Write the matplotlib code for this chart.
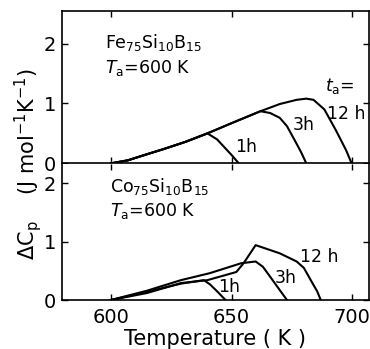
import matplotlib
matplotlib.use('Agg')
import matplotlib.pyplot as plt

plt.rcParams['font.family'] = ['DejaVu Sans']
plt.rcParams['mathtext.default'] = 'regular'

# Fe75Si10B15: common rising part, then the three annealing branches
fe_rise_T = [600, 607, 614, 622, 631, 640]
fe_rise_C = [0, 0.05, 0.14, 0.24, 0.36, 0.5]
fe_1h_T = [644, 647, 650, 653]
fe_1h_C = [0.4, 0.27, 0.14, 0]
fe_3h_T = [650, 662, 666, 670, 673, 676, 678.8, 681]
fe_3h_C = [0.67, 0.87, 0.84, 0.76, 0.62, 0.4, 0.19, 0]
fe_12h_T = [650, 662, 670, 677, 681, 684, 688.5, 693.3, 697.5, 699.8]
fe_12h_C = [0.67, 0.87, 0.99, 1.06, 1.08, 1.06, 0.9, 0.55, 0.22, 0]

# Co75Si10B15
co_1h_T = [600, 615, 629, 638.5, 641, 644, 647.5]
co_1h_C = [0, 0.14, 0.28, 0.34, 0.27, 0.15, 0]
co_3h_T = [600, 615, 629, 641, 654, 660, 663, 666, 670, 673]
co_3h_C = [0, 0.16, 0.34, 0.46, 0.63, 0.66, 0.57, 0.4, 0.17, 0]
co_12h_T = [600, 615, 629, 640, 652, 655, 660, 670, 677, 680, 683, 685.5, 687]
co_12h_C = [0, 0.12, 0.29, 0.34, 0.48, 0.63, 0.94, 0.8, 0.66, 0.55, 0.33, 0.15, 0]

xticks = [600, 650, 700]
yticks = [0, 1, 2]

fig = plt.figure(figsize=(3.7, 3.49), dpi=100)
ax1 = fig.add_axes([62 / 370, 0.532, 306.5 / 370, 0.436])
ax2 = fig.add_axes([62 / 370, 0.1404, 306.5 / 370, 0.3896])

lw = 1.5
ax1.plot(fe_rise_T + fe_1h_T, fe_rise_C + fe_1h_C, c='k', lw=lw)
ax1.plot(fe_rise_T + fe_3h_T, fe_rise_C + fe_3h_C, c='k', lw=lw)
ax1.plot(fe_rise_T + fe_12h_T, fe_rise_C + fe_12h_C, c='k', lw=lw)

ax2.plot(co_1h_T, co_1h_C, c='k', lw=lw)
ax2.plot(co_3h_T, co_3h_C, c='k', lw=lw)
ax2.plot(co_12h_T, co_12h_C, c='k', lw=lw)

for ax, top in [(ax1, 2.54), (ax2, 2.33)]:
    ax.set_xlim(579.7, 706.8)
    ax.set_ylim(0, top)
    ax.set_xticks(xticks)
    ax.set_yticks(yticks)
    ax.tick_params(direction='in', length=4, width=1, top=True, right=True,
                   labelsize=14, pad=4)
    for s in ax.spines.values():
        s.set_linewidth(1.2)

ax2.spines['top'].set_visible(False)
ax1.tick_params(labelbottom=False)
ax2.tick_params(axis='x', pad=6)
ax2.set_xlabel('Temperature ( K )', fontsize=15, labelpad=1)

ax1.text(597.5, 2.02, r'Fe$_{75}$Si$_{10}$B$_{15}$', fontsize=12.5, va='center')
ax1.text(597.5, 1.59, r'$\mathit{T}_\mathrm{a}$=600 K', fontsize=12.5, va='center')
ax1.text(688.8, 1.29, r'$\mathit{t}_\mathrm{a}$=', fontsize=12.5, va='center')
ax1.text(689.6, 0.83, '12 h', fontsize=12.5, va='center')
ax1.text(675.5, 0.64, '3h', fontsize=12.5, va='center')
ax1.text(651.5, 0.27, '1h', fontsize=12.5, va='center')

ax2.text(599.6, 1.94, r'Co$_{75}$Si$_{10}$B$_{15}$', fontsize=12.5, va='center')
ax2.text(599.6, 1.53, r'$\mathit{T}_\mathrm{a}$=600 K', fontsize=12.5, va='center')
ax2.text(678.4, 0.74, '12 h', fontsize=12.5, va='center')
ax2.text(668, 0.37, '3h', fontsize=12.5, va='center')
ax2.text(644.4, 0.22, '1h', fontsize=12.5, va='center')

fig.text(0.075, 0.53, r'$\Delta C_\mathrm{p}$    (J mol$^{-1}$K$^{-1}$)', rotation=90,
         fontsize=15, ha='center', va='center')

fig.savefig('out.png', dpi=100)
